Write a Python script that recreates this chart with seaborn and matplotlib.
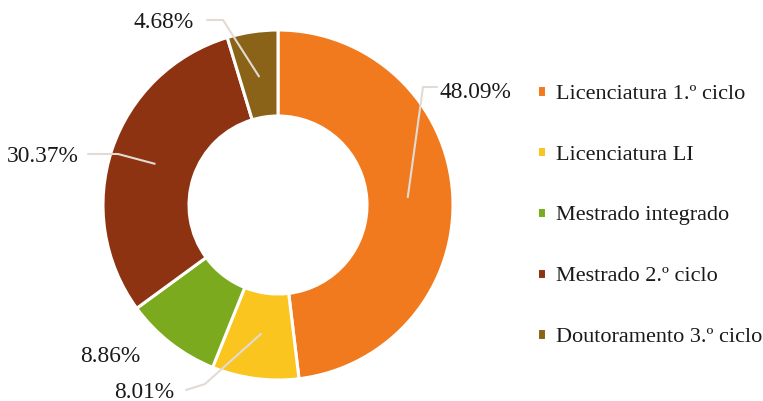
import numpy as np
import matplotlib
matplotlib.use("Agg")
import matplotlib.pyplot as plt
import seaborn as sns

# Distribution of students by study cycle
categories = ["Licenciatura 1.º ciclo", "Licenciatura LI", "Mestrado integrado",
              "Mestrado 2.º ciclo", "Doutoramento 3.º ciclo"]
shares = [48.09, 8.01, 8.86, 30.37, 4.68]
pct_labels = ["48.09%", "8.01%", "8.86%", "30.37%", "4.68%"]
colors = ["#F27A1E", "#FAC51F", "#7BAA1E", "#8E3312", "#8A6318"]

sns.set_theme(style="white")
plt.rcParams["font.family"] = ["Liberation Serif", "DejaVu Serif"]

W, H = 763, 401
fig = plt.figure(figsize=(W / 100, H / 100), dpi=100)
ax = fig.add_axes([0, 0, 1, 1])

cx, cy = 278, H - 205
R, ring = 175, 86
wedges, _ = ax.pie(shares, colors=colors, startangle=90, counterclock=False,
                   center=(cx, cy), radius=R, frame=True,
                   wedgeprops=dict(width=ring, edgecolor="white", linewidth=2.2))
ax.set_xlim(0, W)
ax.set_ylim(0, H)
ax.set_aspect("equal")
ax.axis("off")

# anchor point of each leader line, at the middle angle of the wedge
def anchor(i, r=130):
    w = wedges[i]
    mid = np.deg2rad((w.theta1 + w.theta2) / 2)
    return cx + r * np.cos(mid), cy + r * np.sin(mid)

line_kw = dict(color="#e2dbd4", lw=1.5, solid_capstyle="round", zorder=3)
txt_kw = dict(fontsize=16.8, color="#1a1a1a", zorder=4)

# label text position and elbow points of the leader line (pixel coords from top)
layout = {
    0: dict(text=(440, 92), path=[(437, 87), (423, 87)]),
    1: dict(text=(114, 392), path=[(186, 390), (205, 384)]),
    2: dict(text=(80, 357), path=None),
    3: dict(text=(7, 157), path=[(88, 154), (118, 154)]),
    4: dict(text=(134, 22), path=[(207, 20), (223, 20)]),
}
for i, spec in layout.items():
    tx, ty = spec["text"]
    ax.text(tx, H - ty, pct_labels[i], ha="left", va="center", **txt_kw)
    if spec["path"]:
        ax_, ay_ = anchor(i)
        xs = [p[0] for p in spec["path"]] + [ax_]
        ys = [H - p[1] for p in spec["path"]] + [ay_]
        ax.plot(xs, ys, **line_kw)

leg = ax.legend(wedges, categories, loc="upper left",
                bbox_to_anchor=(528 / W, 1 - 76 / H), frameon=False,
                handlelength=0.42, handleheight=0.42, handletextpad=0.45,
                labelspacing=1.88, fontsize=16, borderaxespad=0)
for t in leg.get_texts():
    t.set_color("#1a1a1a")

fig.savefig("out.png", dpi=100, facecolor="white")
